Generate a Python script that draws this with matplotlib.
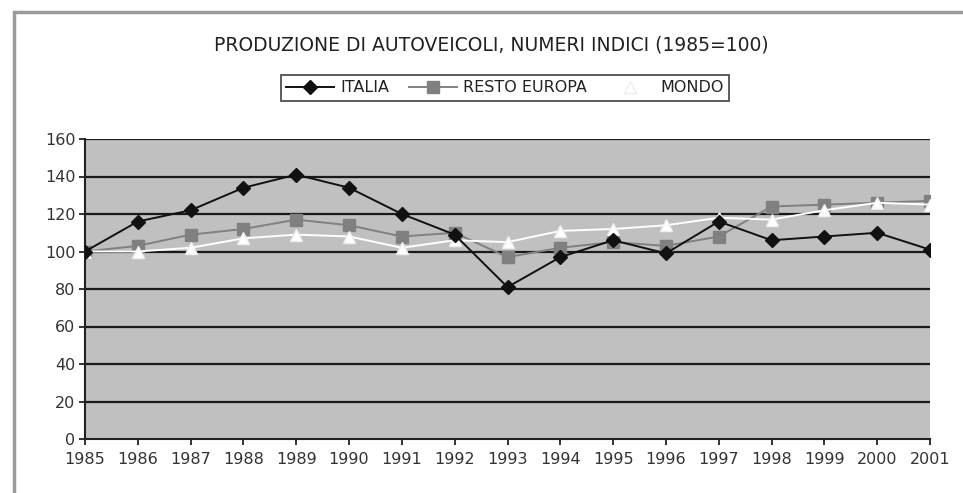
import matplotlib
matplotlib.use("Agg")
import matplotlib.pyplot as plt
from matplotlib.patches import Rectangle

plt.rcParams["font.family"] = ["DejaVu Sans"]

years = [1985, 1986, 1987, 1988, 1989, 1990, 1991, 1992, 1993, 1994, 1995, 1996, 1997, 1998, 1999, 2000, 2001]
italia = [100, 116, 122, 134, 141, 134, 120, 109, 81, 97, 106, 99, 116, 106, 108, 110, 101]
resto_europa = [100, 103, 109, 112, 117, 114, 108, 110, 97, 102, 105, 103, 108, 124, 125, 126, 127]
mondo = [100, 100, 102, 107, 109, 108, 102, 106, 105, 111, 112, 114, 118, 117, 122, 126, 125]
yticks = [0, 20, 40, 60, 80, 100, 120, 140, 160]

W, H = 963, 493
fig = plt.figure(figsize=(W/100, H/100), dpi=100)
fig.patch.set_facecolor("white")

# outer chart frame
fig.patches.append(Rectangle((14/W, -0.1), 1.2, (H-12)/H + 0.1, transform=fig.transFigure,
                             fill=False, edgecolor="#9a9a9a", linewidth=2.5))

ax = fig.add_axes([85/W, 1-439/H, (930-85)/W, (439-139)/H])
ax.set_facecolor("#c0c0c0")
ax.set_xlim(years[0], years[-1])
ax.set_ylim(0, 160)
ax.set_yticks(yticks)
ax.set_xticks(years)
ax.set_xticklabels([str(y) for y in years])
for y in yticks[1:]:
    ax.axhline(y, color="#1a1a1a", linewidth=1.6, zorder=1)

ax.plot(years, italia, color="#111111", linewidth=1.4, marker="D", markersize=7.5,
        markerfacecolor="#111111", markeredgecolor="#111111", zorder=4, label="ITALIA")
ax.plot(years, resto_europa, color="#808080", linewidth=1.4, marker="s", markersize=8,
        markerfacecolor="#808080", markeredgecolor="#808080", zorder=3, label="RESTO EUROPA")
ax.plot(years, mondo, color="white", linewidth=1.4, marker="^", markersize=9,
        markerfacecolor="white", markeredgecolor="#eeeeee", zorder=3, label="MONDO")

for s in ["top", "right"]:
    ax.spines[s].set_visible(False)
ax.spines["left"].set_color("#222222")
ax.spines["bottom"].set_color("#222222")
ax.spines["left"].set_linewidth(1.5)
ax.spines["bottom"].set_linewidth(1.5)
ax.tick_params(axis="both", colors="#222222", labelsize=11.5, length=4, width=1.3)
ax.tick_params(axis="x", pad=5)
ax.tick_params(axis="y", pad=3)
for lab in ax.get_xticklabels() + ax.get_yticklabels():
    lab.set_color("#333333")

fig.text(491/W, 1-45/H, "PRODUZIONE DI AUTOVEICOLI, NUMERI INDICI (1985=100)",
         ha="center", va="center", fontsize=13.5, color="#222222")

leg = fig.legend(loc="center", bbox_to_anchor=(505/W, 1-88/H), ncol=3, frameon=True,
                 fontsize=11.5, handlelength=3, columnspacing=1.2, handletextpad=0.4,
                 borderpad=0.35, fancybox=False, edgecolor="#222222")
leg.get_frame().set_linewidth(1.3)
leg.get_frame().set_facecolor("white")
for t in leg.get_texts():
    t.set_color("#222222")

fig.savefig("out.png", dpi=100)
